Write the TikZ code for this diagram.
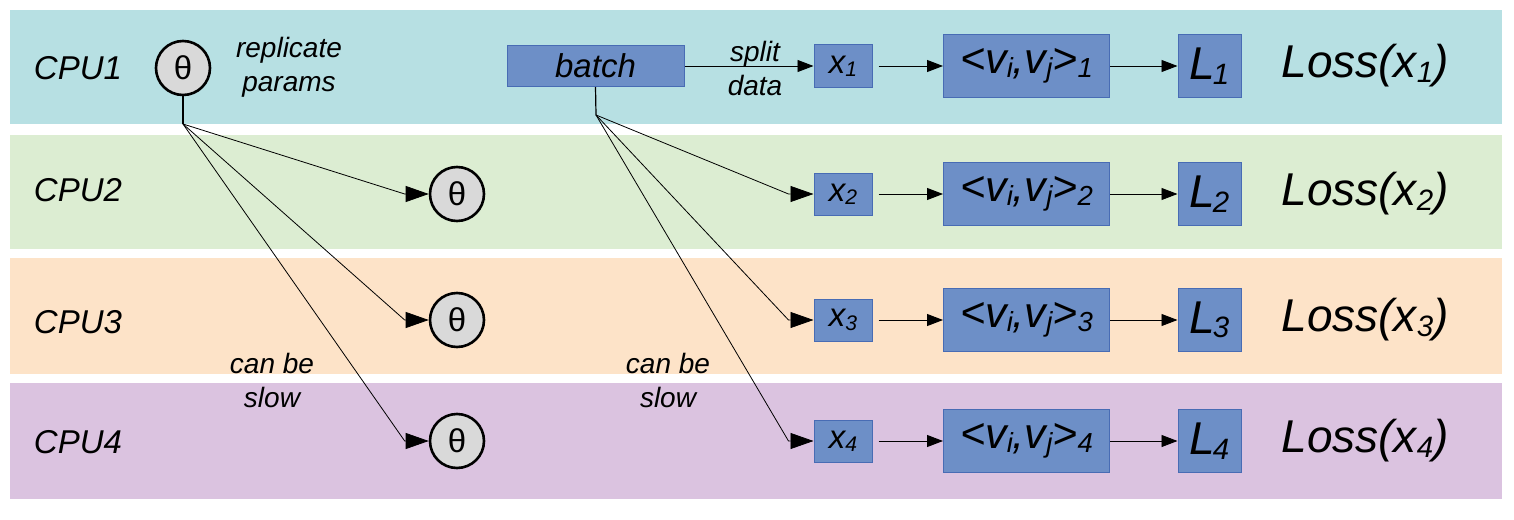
\documentclass[tikz,border=0pt]{standalone}
\usepackage{fontspec}
\setmainfont{Liberation Sans}
\usetikzlibrary{arrows.meta,calc}
\definecolor{bandA}{RGB}{183,224,227}
\definecolor{bandB}{RGB}{220,237,210}
\definecolor{bandC}{RGB}{253,227,200}
\definecolor{bandD}{RGB}{219,195,224}
\definecolor{boxfill}{RGB}{109,143,199}
\definecolor{boxline}{RGB}{72,108,180}
\definecolor{circfill}{RGB}{217,217,217}
\newcommand\lowsub[1]{\raisebox{-0.1em}{\scalebox{0.64}{#1}}}
\tikzset{
  band/.style={fill=#1,draw=none},
  bluebox/.style={draw=boxline,fill=boxfill,line width=1pt,inner sep=0pt,font=\fontsize{#1}{#1}\selectfont\itshape},
  theta/.style={circle,draw=black,line width=2.6pt,fill=circfill,minimum size=54pt,inner sep=0pt,font=\fontsize{33}{33}\selectfont},
  lbl/.style={inner sep=0pt,font=\fontsize{#1}{34}\selectfont\itshape,align=center},
  fan/.style={line width=0.8pt,-{Triangle[length=23pt,width=16pt]}},
  harr/.style={line width=0.9pt,-{Triangle[length=16pt,width=12pt]}},
}
\begin{document}
\begin{tikzpicture}[x=1pt,y=-1pt]
\useasboundingbox[fill=white] (0,0) rectangle (1514,519);
% bands
\path[band=bandA] (10,10) rectangle (1502,124);
\path[band=bandB] (10,135) rectangle (1502,249);
\path[band=bandC] (10,258) rectangle (1502,374);
\path[band=bandD] (10,383) rectangle (1502,499);
% CPU labels
\node[lbl=33] (c1) at (78,68) {CPU1};
\node[lbl=33] (c2) at (78,190) {CPU2};
\node[lbl=33] (c3) at (78,322) {CPU3};
\node[lbl=33] (c4) at (78,442) {CPU4};
% thetas
\node[theta] (t1) at (183,68) {θ};
\node[theta] (t2) at (457,194) {θ};
\node[theta] (t3) at (457,320) {θ};
\node[theta] (t4) at (457,441) {θ};
\node[lbl=28,text width=140pt] (rep) at (289,67) {replicate\\params};
% batch
\node[bluebox=33,minimum width=177pt,minimum height=41pt] (batch) at (595.5,66) {batch};
\node[lbl=28,text width=80pt] (split) at (755,68) {split\\data};
% rows
\foreach \k/\y in {1/66,2/194,3/320,4/441}{
  \node[bluebox=33,minimum width=58pt,minimum height=42pt] (x\k) at (843,\y) {x\lowsub{\k}};
  \node[bluebox=43,minimum width=166pt,minimum height=63pt] (v\k) at (1026.5,\y) {\textless v\lowsub{i},v\lowsub{j}\textgreater\lowsub{\k}};
  \node[bluebox=46,minimum width=63pt,minimum height=63pt] (L\k) at (1209.5,\y) {L\kern-0.05em\lowsub{\k}};
  \node[lbl=46] (loss\k) at (1365,\y) {Loss(x\lowsub{\k})};
  \draw[harr] ($(x\k.east)+(6,0)$) -- (v\k.west);
  \draw[harr] (v\k.east) -- (L\k.west);
}
\draw[harr] (batch.east) -- (x1.west);
% fan from theta
\coordinate (tf) at (183,124);
\draw[line width=1.2pt] (t1.south) -- (tf);
\foreach \k in {2,3,4}{
  \draw[fan] (tf) -- ($(t\k.west)+(-24,0)$) -- (t\k.west);
}
% fan from batch
\coordinate (bf) at (596,115);
\draw[line width=1.2pt] (batch.south) -- (bf);
\foreach \k in {2,3,4}{
  \draw[fan] (bf) -- ($(x\k.west)+(-25,0)$) -- (x\k.west);
}
% can be slow
\node[lbl=28] (slow1) at (272,380) {can be\\slow};
\node[lbl=28] (slow2) at (668,380) {can be\\slow};
\end{tikzpicture}
\end{document}
